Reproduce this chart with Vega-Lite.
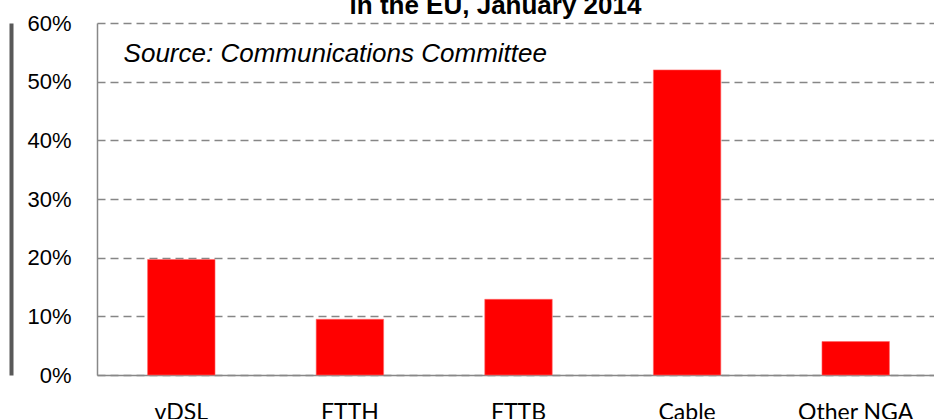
{
  "$schema": "https://vega.github.io/schema/vega-lite/v6.json",
  "autosize": {"type": "none"},
  "padding": {"left": 97, "top": 23, "right": 0, "bottom": 44},
  "width": 843,
  "height": 352,
  "background": "white",
  "title": {
    "text": "in the EU, January 2014",
    "font": "Liberation Sans",
    "fontSize": 26,
    "fontWeight": "bold",
    "color": "#000000",
    "anchor": "middle",
    "offset": -7,
    "dx": -23
  },
  "config": {
    "view": {"stroke": null},
    "axis": {"labelColor": "#000000"}
  },
  "data": {
    "values": [
      {"tech": "vDSL", "share": 0.197},
      {"tech": "FTTH", "share": 0.095},
      {"tech": "FTTB", "share": 0.129},
      {"tech": "Cable", "share": 0.52},
      {"tech": "Other NGA", "share": 0.057}
    ]
  },
  "layer": [
    {
      "mark": {"type": "bar", "color": "#FF0000", "stroke": "#FF6666", "strokeWidth": 0.6},
      "encoding": {
        "x": {
          "field": "tech",
          "type": "nominal",
          "sort": null,
          "scale": {"paddingInner": 0.6, "paddingOuter": 0.3},
          "axis": {
            "title": null,
            "labelAngle": 0,
            "ticks": false,
            "labelPadding": 26,
            "labelFont": "Lato",
            "labelFontSize": 23,
            "domainColor": "#888888",
            "domainWidth": 1.5
          }
        },
        "y": {
          "field": "share",
          "type": "quantitative",
          "scale": {"domain": [0, 0.6], "nice": false},
          "axis": {
            "title": null,
            "format": ".0%",
            "values": [0, 0.1, 0.2, 0.3, 0.4, 0.5, 0.6],
            "ticks": false,
            "labelPadding": 26,
            "labelFont": "Liberation Sans",
            "labelFontSize": 22,
            "domainColor": "#888888",
            "domainWidth": 1.5,
            "grid": true,
            "gridColor": "#868686",
            "gridWidth": 1.5,
            "gridDash": [8, 5]
          }
        }
      }
    },
    {
      "data": {"values": [{"tech": "vDSL", "share": 0.534, "label": "Source: Communications Committee"}]},
      "mark": {
        "type": "text",
        "align": "left",
        "baseline": "alphabetic",
        "font": "Liberation Sans",
        "fontStyle": "italic",
        "fontSize": 26,
        "color": "#000000",
        "dx": -24
      },
      "encoding": {
        "x": {"field": "tech", "type": "nominal", "sort": null, "bandPosition": 0},
        "y": {"field": "share", "type": "quantitative", "scale": {"domain": [0, 0.6], "nice": false}, "axis": null},
        "text": {"field": "label"}
      }
    },
    {
      "mark": {"type": "rule", "opacity": 0},
      "encoding": {
        "y": {
          "field": "share",
          "type": "quantitative",
          "scale": {"domain": [0, 0.6], "nice": false},
          "axis": {
            "title": null,
            "orient": "left",
            "offset": 86,
            "labels": false,
            "ticks": false,
            "grid": false,
            "domainColor": "#595959",
            "domainWidth": 4
          }
        }
      }
    }
  ],
  "resolve": {"scale": {"y": "independent"}}
}
